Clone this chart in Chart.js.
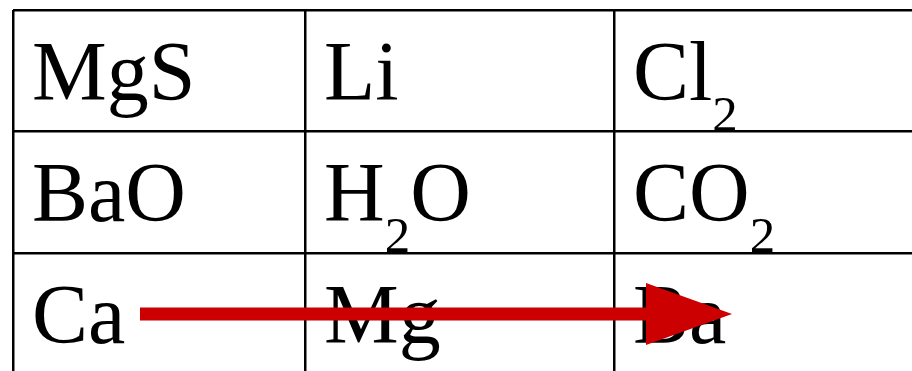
<!DOCTYPE html>
<html>
<head>
<meta charset="utf-8">
<script src="https://cdn.jsdelivr.net/npm/chart.js@4.4.1/dist/chart.umd.min.js"></script>
<style>
  html, body { margin: 0; padding: 0; background: #fff; }
  #wrap { width: 912px; height: 371px; position: relative; }
</style>
</head>
<body>
<div id="wrap"><canvas id="tableChart"></canvas></div>
<script>
// Table content (digits are drawn as subscripts)
const rowLabels = [
    ['MgS', 'Li', 'Cl2'],
    ['BaO', 'H2O', 'CO2'],
    ['Ca', 'Mg', 'Ba']
];

// Cell boundaries in table units
const columnEdges = [0, 292, 601, 900];
const rowEdges = [0, 121, 243, 365];

// Arrow across the last row
const arrowFrom = 127;
const arrowTo = 719;
const arrowRow = 304;

const RED = '#CC0000';
const FONT = '"Liberation Serif", "Times New Roman", serif';

// draws the formulas, digits as subscripts
const cellTextPlugin = {
    id: 'cellText',
    beforeDatasetsDraw(chart) {
        const { ctx, scales } = chart;
        ctx.save();
        ctx.fillStyle = '#000';
        ctx.textBaseline = 'alphabetic';
        rowLabels.forEach((row, r) => {
            row.forEach((label, c) => {
                let x = scales.x.getPixelForValue(columnEdges[c]) + 19;
                const y = scales.y.getPixelForValue(rowEdges[r]) + 90;
                label.split(/(\d+)/).filter(s => s).forEach(part => {
                    const sub = /^\d+$/.test(part);
                    ctx.font = (sub ? '51px ' : '84px ') + FONT;
                    ctx.fillText(part, x, sub ? y + 31 : y);
                    x += ctx.measureText(part).width;
                });
            });
        });
        ctx.restore();
    }
};

// arrow head at the end of the red line
const arrowHeadPlugin = {
    id: 'arrowHead',
    afterDatasetsDraw(chart) {
        const { ctx, scales } = chart;
        const tipX = scales.x.getPixelForValue(arrowTo);
        const midY = scales.y.getPixelForValue(arrowRow);
        ctx.save();
        ctx.fillStyle = RED;
        ctx.beginPath();
        ctx.moveTo(tipX, midY);
        ctx.lineTo(tipX - 86, midY - 31);
        ctx.lineTo(tipX - 86, midY + 31);
        ctx.closePath();
        ctx.fill();
        ctx.restore();
    }
};

const gridOpts = { color: '#000', lineWidth: 2.5, drawTicks: false };

new Chart(document.getElementById('tableChart').getContext('2d'), {
    type: 'scatter',
    data: {
        datasets: [{
            data: [{ x: arrowFrom, y: arrowRow }, { x: arrowTo - 80, y: arrowRow }],
            showLine: true,
            borderColor: RED,
            borderWidth: 13,
            borderCapStyle: 'butt',
            pointRadius: 0,
            clip: false
        }]
    },
    options: {
        responsive: true,
        maintainAspectRatio: false,
        animation: false,
        layout: { padding: { left: 13, top: 10, right: 0, bottom: 0 } },
        plugins: { legend: { display: false }, tooltip: { enabled: false } },
        scales: {
            x: {
                type: 'linear', min: 0, max: 899,
                afterBuildTicks: axis => { axis.ticks = columnEdges.filter(v => v <= 899).map(v => ({ value: v })); },
                ticks: { display: false },
                grid: gridOpts,
                border: { display: false }
            },
            y: {
                type: 'linear', min: 0, max: 361, reverse: true,
                afterBuildTicks: axis => { axis.ticks = rowEdges.filter(v => v <= 361).map(v => ({ value: v })); },
                ticks: { display: false },
                grid: gridOpts,
                border: { display: false }
            }
        }
    },
    plugins: [cellTextPlugin, arrowHeadPlugin]
});
</script>
</body>
</html>
